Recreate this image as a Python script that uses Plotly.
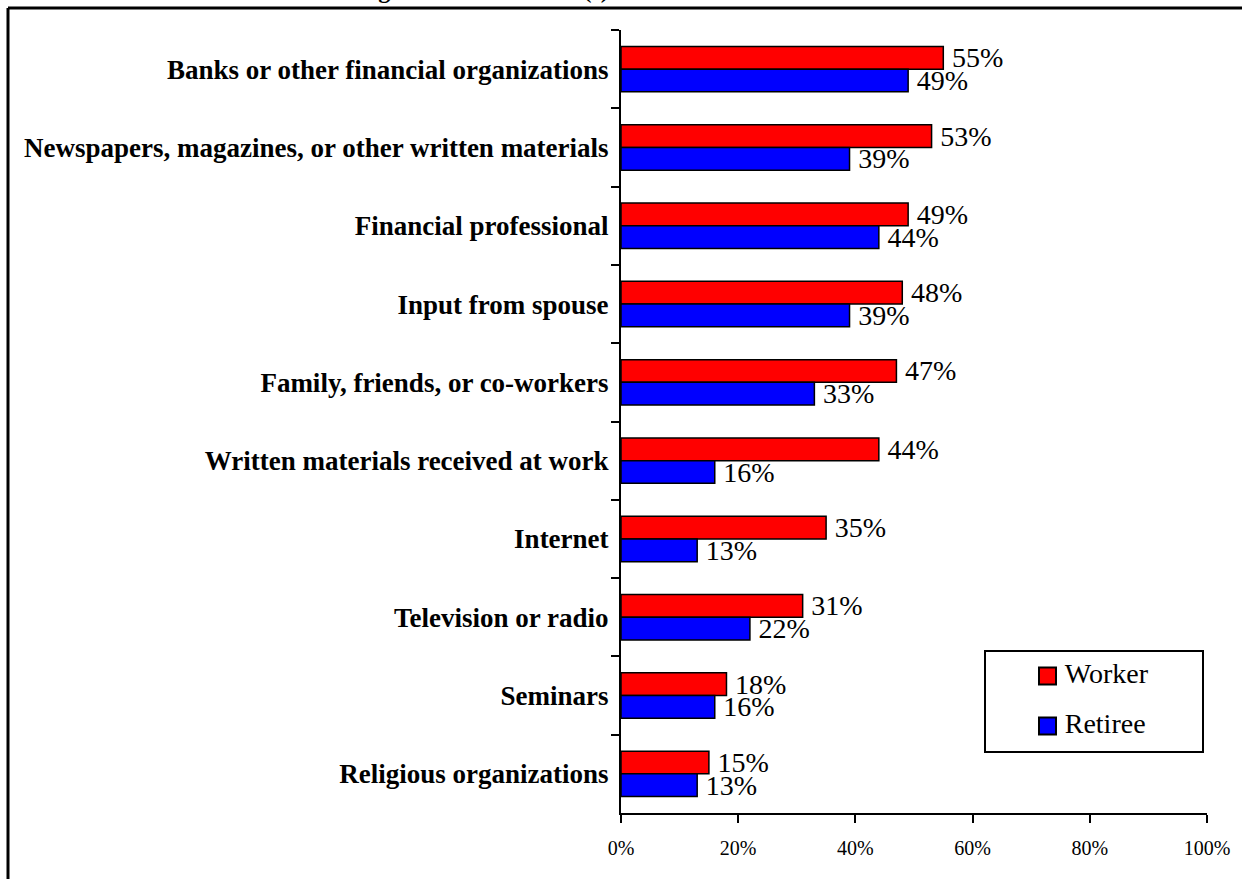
import plotly.graph_objects as go

# Sources of financial information, share of respondents using each
categories = [
    "Banks or other financial organizations",
    "Newspapers, magazines, or other written materials",
    "Financial professional",
    "Input from spouse",
    "Family, friends, or co-workers",
    "Written materials received at work",
    "Internet",
    "Television or radio",
    "Seminars",
    "Religious organizations",
]
worker = [55, 53, 49, 48, 47, 44, 35, 31, 18, 15]
retiree = [49, 39, 44, 39, 33, 16, 13, 22, 16, 13]
x_ticks = [0, 20, 40, 60, 80, 100]
x_tick_labels = ["0%", "20%", "40%", "60%", "80%", "100%"]
series_names = ["Worker", "Retiree"]
series_colors = ["#FF0000", "#0000FF"]

W, H = 1242, 879
L, R, T, B = 621, 35, 30, 66
PW, PH = W - L - R, H - T - B


def px_x(p):
    return (p - L) / PW


def px_y(p):
    return 1 - (p - T) / PH


serif = "Liberation Serif, Times New Roman, serif"

fig = go.Figure()
for name, color, vals in zip(series_names, series_colors, [worker, retiree]):
    fig.add_trace(go.Bar(
        y=categories, x=vals, orientation="h", name=name,
        marker=dict(color=color, line=dict(color="black", width=1.5)),
        text=[f"\u2009{v}%" for v in vals], textposition="outside",
        textfont=dict(family=serif, size=28, color="black"),
        cliponaxis=False, constraintext="none", showlegend=False,
    ))

# Legend entries on an overlay axis pair measured in page pixels
legend_x = [1047.5, 1047.5]
legend_y = [676, 726]
fig.add_trace(go.Scatter(
    x=legend_x, y=legend_y, xaxis="x2", yaxis="y2",
    mode="markers+text", text=["\u2009" + n for n in series_names],
    textposition="middle right",
    textfont=dict(family=serif, size=28, color="black"),
    marker=dict(symbol="square", size=17, color=series_colors,
                line=dict(color="black", width=2)),
    cliponaxis=False, showlegend=False, hoverinfo="skip",
))

shapes = [
    # legend frame
    dict(type="rect", xref="paper", yref="paper",
         x0=px_x(985), x1=px_x(1203), y0=px_y(651), y1=px_y(752),
         line=dict(color="black", width=2), fillcolor="white", layer="below"),
    # outer frame (left and top edges)
    dict(type="line", xref="paper", yref="paper",
         x0=px_x(8), x1=px_x(W + 5), y0=px_y(8), y1=px_y(8),
         line=dict(color="black", width=3)),
    dict(type="line", xref="paper", yref="paper",
         x0=px_x(8), x1=px_x(8), y0=px_y(8), y1=px_y(H + 5),
         line=dict(color="black", width=3)),
]

annotations = [dict(
    text="<b>Figure 4: Used Source(s) of Financial Information</b>",
    xref="paper", yref="paper", x=px_x(612), y=px_y(5),
    xanchor="center", yanchor="bottom", showarrow=False,
    font=dict(family=serif, size=24, color="black"))]

fig.update_layout(
    width=W, height=H,
    margin=dict(l=L, r=R, t=T, b=B, autoexpand=False),
    paper_bgcolor="white", plot_bgcolor="white",
    barmode="group", bargap=0.42, bargroupgap=0,
    font=dict(family=serif, color="black"),
    showlegend=False,
    xaxis=dict(
        range=[0, 100], tickvals=x_ticks, ticktext=x_tick_labels,
        showgrid=False, zeroline=False, showline=True, linecolor="black",
        linewidth=2, ticks="outside", ticklen=8, tickwidth=2, tickcolor="black",
        tickfont=dict(family=serif, size=20, color="black"),
        ticklabelstandoff=8,
    ),
    yaxis=dict(
        type="category", autorange="reversed", tickson="boundaries",
        showgrid=False, showline=True, linecolor="black", linewidth=2,
        ticks="outside", ticklen=8, tickwidth=2, tickcolor="black",
        tickfont=dict(family=serif, size=27, color="black", weight="bold"),
        ticklabelstandoff=5,
    ),
    xaxis2=dict(overlaying="x", range=[L, W - R], visible=False, anchor="y2"),
    yaxis2=dict(overlaying="y", range=[H - B, T], visible=False, anchor="x2"),
    shapes=shapes,
    annotations=annotations,
)

fig.write_html("out.html")
